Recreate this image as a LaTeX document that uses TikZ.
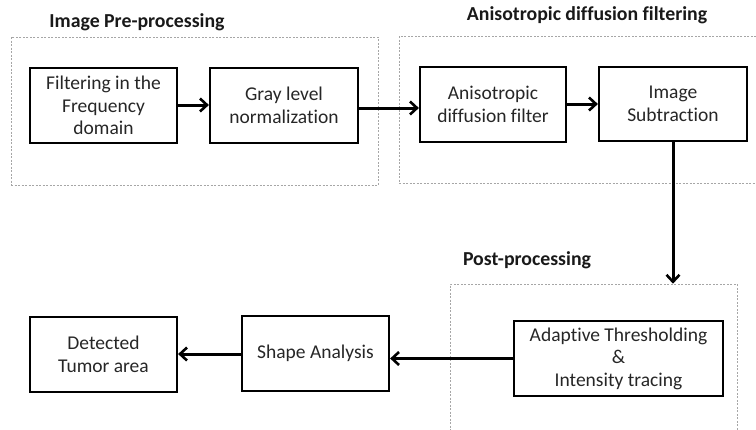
\documentclass[tikz,border=0pt]{standalone}
\usepackage{fontspec}
\setmainfont{Carlito}[Ligatures={NoCommon}]
\usetikzlibrary{arrows.meta}
\begin{document}
\begin{tikzpicture}[x=1pt,y=-1pt,
  proc/.style={draw=black, line width=2.2pt, minimum width=147pt, minimum height=75pt,
    align=center, font=\fontsize{19.5}{22.5}\selectfont, inner sep=1pt, text=black!85},
  grp/.style={draw=gray!70, line width=0.6pt, dash pattern=on 2pt off 1.5pt},
  ttl/.style={font=\bfseries\fontsize{19.8}{22}\selectfont, inner sep=0pt, text=black!90},
  flow/.style={line width=3pt, -{Straight Barb[length=7pt,width=13pt,line width=2.6pt]}}]
\useasboundingbox (0,0) rectangle (756,429);
\clip (0,0) rectangle (756,429);
% groups
\node[grp, minimum width=367pt, minimum height=148pt, inner sep=0pt] (pre) at (194.5,111) {};
\node[grp, minimum width=371pt, minimum height=147pt, inner sep=0pt] (adf) at (584.5,109.5) {};
\node[grp, minimum width=287pt, minimum height=156pt, inner sep=0pt] (post) at (593.5,362) {};
% titles
\node[ttl] (t1) at (137,22) {Image Pre-processing};
\node[ttl] (t2) at (587,15) {Anisotropic diffusion filtering};
\node[ttl] (t3) at (527,260) {Post-processing};
% process boxes
\node[proc] (filt) at (103.5,105.5) {Filtering in the\\Frequency\\domain};
\node[proc, minimum width=148pt] (gray) at (284,105.5) {Gray level\\normalization};
\node[proc, minimum width=146pt] (aniso) at (493,104.5) {Anisotropic\\diffusion filter};
\node[proc, minimum width=148pt, minimum height=74pt] (sub) at (673,104) {Image\\Subtraction};
\node[proc, minimum width=209pt] (adapt) at (618.5,358.5) {Adaptive Thresholding\\\&\\Intensity tracing};
\node[proc] (shape) at (315.5,353.5) {Shape Analysis};
\node[proc] (det) at (103.5,354.5) {Detected\\Tumor area};
% connectors
\draw[flow] (filt.east |- 0,105) -- (gray.west |- 0,105);
\draw[flow] (gray.east |- 0,108) -- (aniso.west |- 0,108);
\draw[flow] (aniso.east |- 0,104) -- (sub.west |- 0,104);
\draw[flow] (sub.south) -- (sub.south |- post.north);
\draw[flow] (adapt.west |- 0,358.5) -- (shape.east |- 0,358.5);
\draw[flow] (shape.west |- 0,354) -- (det.east |- 0,354);
\end{tikzpicture}
\end{document}
